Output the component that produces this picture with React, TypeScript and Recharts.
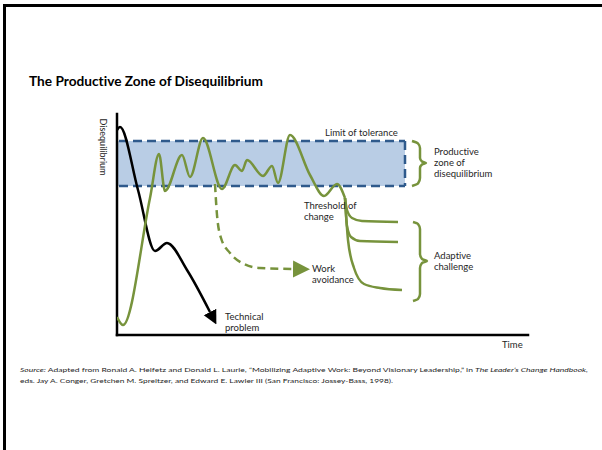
import { LineChart, Line, XAxis, YAxis, ReferenceArea, ReferenceLine, ReferenceDot } from 'recharts';

// time runs along x, level of disequilibrium up y (arbitrary units)
const timeDomain = [0, 411];
const levelDomain = [0, 221];

const zoneStart = 0;
const zoneEnd = 288;
const thresholdOfChange = 149;
const limitOfTolerance = 194;

const disequilibrium = [
  { t: 0, v: 18 }, { t: 6, v: 10 }, { t: 33, v: 137 }, { t: 42, v: 181 }, { t: 48, v: 144 },
  { t: 65, v: 180 }, { t: 73, v: 158 }, { t: 86, v: 197 }, { t: 105, v: 146 }, { t: 118, v: 170 },
  { t: 125, v: 164 }, { t: 130, v: 175 }, { t: 146, v: 159 }, { t: 155, v: 169 }, { t: 161, v: 152 },
  { t: 173, v: 200 }, { t: 193, v: 160 }, { t: 207, v: 139 }, { t: 220, v: 151 }, { t: 228, v: 137 },
];

const technicalProblem = [
  { t: 0, v: 205 }, { t: 3, v: 208 }, { t: 21, v: 145 }, { t: 38, v: 84 }, { t: 50, v: 92 },
  { t: 70, v: 65 }, { t: 93, v: 23 },
];

const workAvoidance = [
  { t: 98, v: 151 }, { t: 100, v: 120 }, { t: 104, v: 97 }, { t: 113, v: 82 }, { t: 125, v: 72 },
  { t: 143, v: 67 }, { t: 176, v: 66 },
];

const adaptiveHigh = [
  { t: 228, v: 137 }, { t: 230, v: 125 }, { t: 235, v: 117 }, { t: 245, v: 114 }, { t: 281, v: 113 },
];
const adaptiveMid = [
  { t: 228, v: 137 }, { t: 230, v: 109 }, { t: 234, v: 98 }, { t: 243, v: 94 }, { t: 281, v: 93 },
];
const adaptiveLow = [
  { t: 228, v: 137 }, { t: 231, v: 95 }, { t: 237, v: 67 }, { t: 247, v: 51 }, { t: 263, v: 47 }, { t: 285, v: 45 },
];

const zoneBrace = [
  { t: 295, v: 194 }, { t: 301, v: 191.5 }, { t: 303, v: 187 }, { t: 303, v: 177 }, { t: 305, v: 173.5 },
  { t: 309, v: 172 }, { t: 305, v: 170.5 }, { t: 303, v: 167 }, { t: 303, v: 157 }, { t: 301, v: 151.5 },
  { t: 295, v: 149 },
];
const challengeBrace = [
  { t: 296, v: 113 }, { t: 301, v: 111 }, { t: 303, v: 106 }, { t: 303, v: 81 }, { t: 305, v: 76 },
  { t: 310, v: 74 }, { t: 305, v: 72 }, { t: 303, v: 67 }, { t: 303, v: 41 }, { t: 301, v: 36 },
  { t: 296, v: 34 },
];

const notes = [
  { t: 208, v: 202, lines: ['Limit of tolerance'] },
  { t: 317, v: 183, lines: ['Productive', 'zone of', 'disequilibrium'] },
  { t: 187, v: 129, lines: ['Threshold of', 'change'] },
  { t: 195, v: 66, lines: ['Work', 'avoidance'] },
  { t: 317, v: 79, lines: ['Adaptive', 'challenge'] },
  { t: 108, v: 18, lines: ['Technical', 'problem'] },
];

const GREEN = '#77933c';
const BLUE_FILL = '#b9cde5';
const BLUE_DASH = '#2f5a8c';
const INK = '#262626';
const FONT = 'Lato, "Open Sans", sans-serif';

function Note({ cx, cy, lines }: { cx: number; cy: number; lines: string[] }) {
  return (
    <text fontFamily={FONT} fontSize={9.5} fill={INK} style={{ fontVariantLigatures: 'none' }}>
      {lines.map((l, i) => (
        <tspan key={i} x={cx} y={cy + i * 11 + 3.3}>{l}</tspan>
      ))}
    </text>
  );
}

export default function App() {
  return (
    <div style={{ position: 'absolute', left: 0, top: 0, width: 602, height: 450, background: '#fff', overflow: 'hidden', fontVariantLigatures: 'none' }}>
      <div style={{ position: 'absolute', left: 3, top: 4, width: 602, height: 450, borderTop: '3px solid #000', borderLeft: '3px solid #000' }} />
      <svg width={602} height={450} style={{ position: 'absolute', left: 0, top: 0 }}>
        <defs>
          <marker id="tipBlack" viewBox="0 0 10 10" refX="0" refY="5" markerWidth="14" markerHeight="17" markerUnits="userSpaceOnUse" orient="auto">
            <path d="M0,0 L10,5 L0,10 z" fill="#000" />
          </marker>
          <marker id="tipGreen" viewBox="0 0 10 10" refX="0" refY="5" markerWidth="17" markerHeight="18" markerUnits="userSpaceOnUse" orient="auto">
            <path d="M0,0 L10,5 L0,10 z" fill={GREEN} />
          </marker>
        </defs>
        <text x={29} y={86} fontFamily={FONT} fontSize={13.5} fontWeight={700} fill="#000" textLength={234} lengthAdjust="spacingAndGlyphs">The Productive Zone of Disequilibrium</text>
        <text transform="translate(103,147) rotate(90)" textAnchor="middle" dominantBaseline="central" fontFamily={FONT} fontSize={9} fill={INK}>Disequilibrium</text>
        <text x={502} y={348} fontFamily={FONT} fontSize={9.5} fill={INK}>Time</text>
        <text x={20} y={372} fontFamily={FONT} fontSize={6.2} fill={INK} textLength={568} lengthAdjust="spacingAndGlyphs">
          <tspan fontStyle="italic">Source:</tspan> Adapted from Ronald A. Heifetz and Donald L. Laurie, “Mobilizing Adaptive Work: Beyond Visionary Leadership,” in <tspan fontStyle="italic">The Leader’s Change Handbook,</tspan>
        </text>
        <text x={20} y={383} fontFamily={FONT} fontSize={6.2} fill={INK} textLength={373} lengthAdjust="spacingAndGlyphs">
          eds. Jay A. Conger, Gretchen M. Spreitzer, and Edward E. Lawler III (San Francisco: Jossey-Bass, 1998).
        </text>
      </svg>
      <div style={{ position: 'absolute', left: 0, top: 0 }}>
        <LineChart width={602} height={450} margin={{ top: 114, right: 74, bottom: 115, left: 117 }}>
          <XAxis type="number" dataKey="t" domain={timeDomain} hide allowDataOverflow />
          <YAxis type="number" dataKey="v" domain={levelDomain} hide allowDataOverflow />
          <ReferenceArea x1={zoneStart} x2={zoneEnd} y1={thresholdOfChange} y2={limitOfTolerance} fill={BLUE_FILL} fillOpacity={1} stroke="none" />
          <ReferenceLine segment={[{ x: zoneStart + 2, y: limitOfTolerance }, { x: zoneEnd, y: limitOfTolerance }]} stroke={BLUE_DASH} strokeWidth={2.5} strokeDasharray="9 5" />
          <ReferenceLine segment={[{ x: zoneStart + 2, y: thresholdOfChange }, { x: zoneEnd, y: thresholdOfChange }]} stroke={BLUE_DASH} strokeWidth={2.5} strokeDasharray="9 5" />
          <ReferenceLine segment={[{ x: zoneEnd, y: limitOfTolerance }, { x: zoneEnd, y: thresholdOfChange }]} stroke={BLUE_DASH} strokeWidth={2.5} strokeDasharray="9 5" />
          <ReferenceLine x={0} stroke="#000" strokeWidth={2.5} strokeLinecap="square" />
          <ReferenceLine y={0} stroke="#000" strokeWidth={2.5} strokeLinecap="square" />
          <Line data={technicalProblem} dataKey="v" type="monotone" stroke="#000" strokeWidth={2.5} dot={false} activeDot={false} isAnimationActive={false} markerEnd="url(#tipBlack)" />
          <Line data={workAvoidance} dataKey="v" type="monotone" stroke={GREEN} strokeWidth={2.5} strokeDasharray="8 5" dot={false} activeDot={false} isAnimationActive={false} markerEnd="url(#tipGreen)" />
          <Line data={disequilibrium} dataKey="v" type="monotone" stroke={GREEN} strokeWidth={2.5} dot={false} activeDot={false} isAnimationActive={false} />
          <Line data={adaptiveHigh} dataKey="v" type="monotone" stroke={GREEN} strokeWidth={2.5} dot={false} activeDot={false} isAnimationActive={false} />
          <Line data={adaptiveMid} dataKey="v" type="monotone" stroke={GREEN} strokeWidth={2.5} dot={false} activeDot={false} isAnimationActive={false} />
          <Line data={adaptiveLow} dataKey="v" type="monotone" stroke={GREEN} strokeWidth={2.5} dot={false} activeDot={false} isAnimationActive={false} />
          <Line data={zoneBrace} dataKey="v" type="monotoneY" stroke={GREEN} strokeWidth={2.5} dot={false} activeDot={false} isAnimationActive={false} />
          <Line data={challengeBrace} dataKey="v" type="monotoneY" stroke={GREEN} strokeWidth={2.5} dot={false} activeDot={false} isAnimationActive={false} />
          {notes.map((n, i) => (
            <ReferenceDot key={i} x={n.t} y={n.v} r={0} shape={(p: any) => <Note cx={p.cx} cy={p.cy} lines={n.lines} />} />
          ))}
        </LineChart>
      </div>
    </div>
  );
}
